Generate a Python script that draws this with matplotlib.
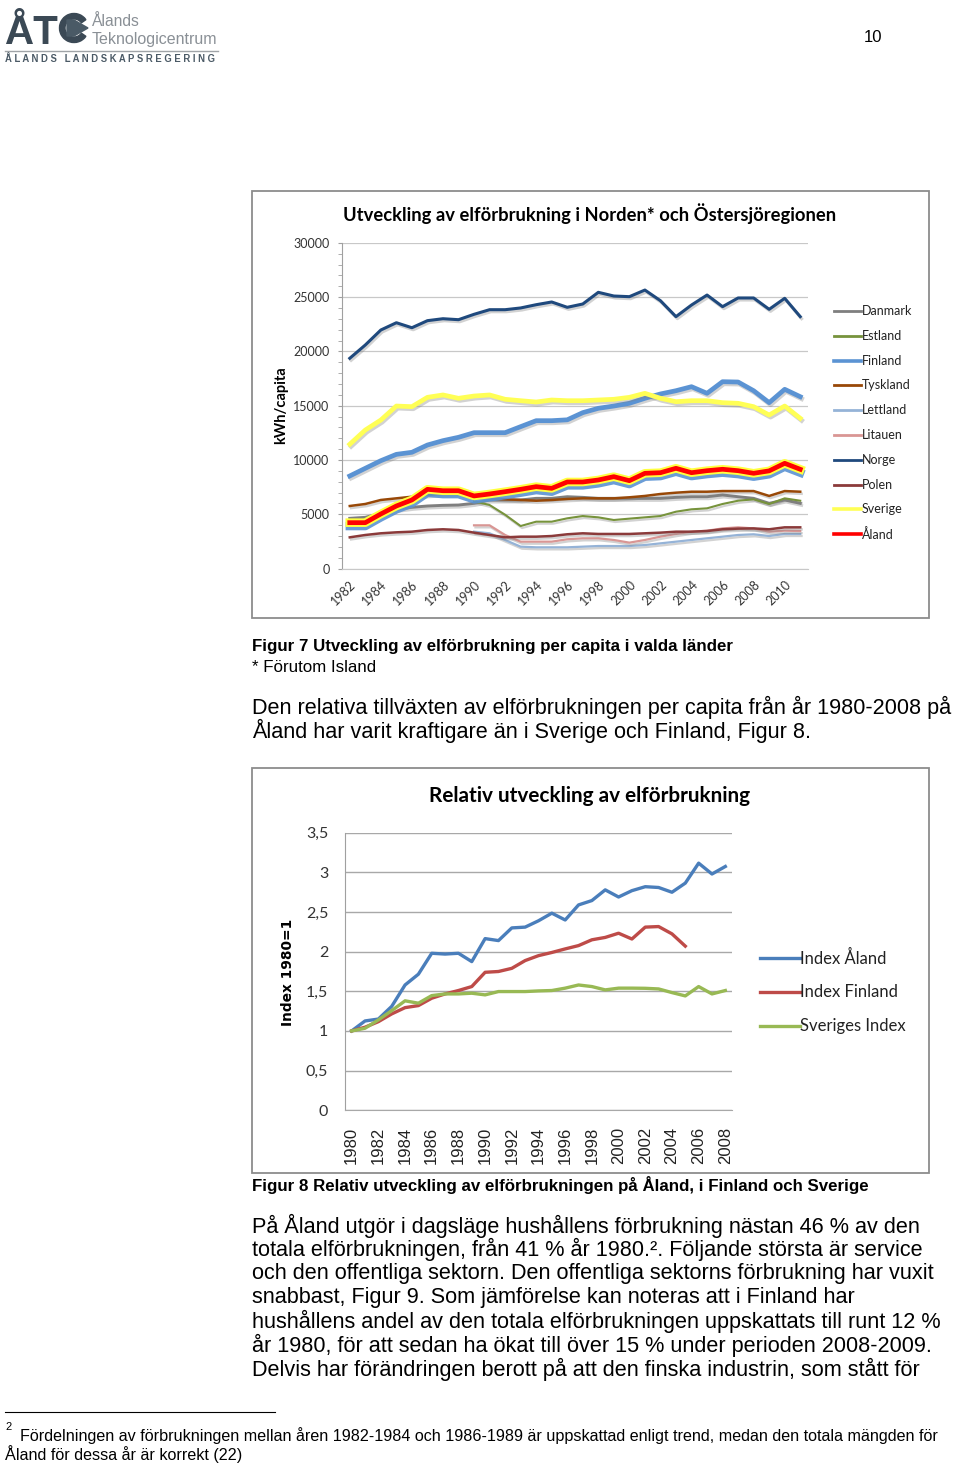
import numpy as np
import matplotlib
matplotlib.use("Agg")
import matplotlib.pyplot as plt
import matplotlib.patheffects as pe
from matplotlib.patches import Rectangle, Polygon, Wedge

nan = np.nan

# Figur 7: kWh/capita, 1982-2011
years1 = list(range(1982, 2012))
danmark = [4630, 4720, 5090, 5460, 5645, 5765, 5825, 5855, 6010, 6320, 6320, 6320, 6470, 6470, 6620,
           6560, 6470, 6470, 6470, 6470, 6470, 6560, 6620, 6620, 6780, 6620, 6470, 6010, 6320, 6010]
estland = [nan] * 8 + [6200, 5855, 4960, 3920, 4320, 4320, 4630, 4840, 4720, 4475, 4600, 4720, 4840,
                       5240, 5460, 5550, 5950, 6250, 6380, 5950, 6470, 6250]
finland = [8530, 9235, 9935, 10520, 10710, 11380, 11780, 12090, 12515, 12515, 12515, 13070, 13620, 13620,
           13700, 14360, 14760, 14970, 15220, 15680, 16080, 16380, 16750, 16140, 17210, 17180, 16380,
           15280, 16510, 15830]
tyskland = [5765, 5950, 6320, 6470, 6620, 6780, 6870, 6870, 6690, 6470, 6380, 6320, 6250, 6320, 6410,
            6470, 6470, 6470, 6565, 6690, 6870, 6990, 7080, 7080, 7140, 7140, 7140, 6690, 7140, 7080]
lettland = [nan] * 8 + [3400, 3250, 2635, 2020, 1960, 1960, 1960, 2020, 2080, 2080, 2080, 2170, 2325,
                        2480, 2635, 2790, 2940, 3095, 3160, 3000, 3190, 3190]
litauen = [nan] * 8 + [3985, 3985, 3095, 2480, 2480, 2480, 2700, 2790, 2790, 2635, 2390, 2635, 2940,
                       3190, 3400, 3490, 3700, 3800, 3700, 3400, 3490, 3460]
norge = [19365, 20590, 21970, 22640, 22180, 22830, 23010, 22920, 23415, 23840, 23840, 24000, 24300,
         24550, 24060, 24365, 25440, 25100, 25040, 25650, 24670, 23200, 24270, 25190, 24120, 24920,
         24920, 23875, 24890, 23200]
polen = [2880, 3095, 3250, 3340, 3400, 3555, 3620, 3555, 3310, 3095, 2880, 2940, 2940, 3000, 3160,
         3250, 3190, 3190, 3190, 3250, 3310, 3400, 3400, 3460, 3620, 3680, 3700, 3620, 3800, 3800]
sverige = [11450, 12760, 13680, 14970, 14910, 15770, 15990, 15680, 15890, 15990, 15590, 15460, 15340,
           15525, 15460, 15460, 15525, 15590, 15770, 16140, 15680, 15370, 15460, 15460, 15280, 15220,
           14910, 14140, 14970, 13840]
aland = [4230, 4230, 5030, 5765, 6320, 7300, 7170, 7170, 6690, 6870, 7080, 7300, 7545, 7390, 7975,
         7975, 8160, 8465, 8095, 8775, 8830, 9235, 8830, 9015, 9145, 9015, 8775, 9000, 9695, 9145]

countries = ["Danmark", "Estland", "Finland", "Tyskland", "Lettland", "Litauen", "Norge", "Polen",
             "Sverige", "Åland"]
series1 = [danmark, estland, finland, tyskland, lettland, litauen, norge, polen, sverige, aland]
colors1 = ["#7f7f7f", "#77933c", "#5b93d3", "#984807", "#95b3d7", "#d99694", "#1f497d", "#8b3a3a",
           "#ffff55", "#ff0000"]
widths1 = [2.1, 1.5, 3.4, 1.8, 1.6, 1.6, 2.2, 1.8, 3.4, 3.4]

# Figur 8: index 1980=1
years2 = list(range(1980, 2009))
index_aland = [1.0, 1.126, 1.15, 1.31, 1.58, 1.716, 1.98, 1.97, 1.98, 1.875, 2.165, 2.14, 2.30, 2.31,
               2.39, 2.486, 2.40, 2.59, 2.645, 2.78, 2.69, 2.77, 2.82, 2.81, 2.75, 2.865, 3.117, 2.98,
               3.075]
index_finland = [1.0, 1.047, 1.117, 1.215, 1.294, 1.32, 1.413, 1.467, 1.51, 1.56, 1.74, 1.75, 1.79,
                 1.888, 1.95, 1.99, 2.035, 2.077, 2.15, 2.18, 2.233, 2.16, 2.31, 2.317, 2.225, 2.07,
                 nan, nan, nan]
sveriges_index = [1.0, 1.034, 1.139, 1.256, 1.38, 1.35, 1.446, 1.467, 1.467, 1.476, 1.455, 1.497,
                  1.497, 1.497, 1.505, 1.51, 1.54, 1.58, 1.56, 1.518, 1.54, 1.54, 1.538, 1.53, 1.484,
                  1.442, 1.56, 1.467, 1.51]
names2 = ["Index Åland", "Index Finland", "Sveriges Index"]
series2 = [index_aland, index_finland, sveriges_index]
colors2 = ["#4a7ebb", "#be4b48", "#98b954"]

body = [
    "På Åland utgör i dagsläge hushållens förbrukning nästan 46 % av den",
    "totala elförbrukningen, från 41 % år 1980.². Följande största är service",
    "och den offentliga sektorn. Den offentliga sektorns förbrukning har vuxit",
    "snabbast, Figur 9. Som jämförelse kan noteras att i Finland har",
    "hushållens andel av den totala elförbrukningen uppskattats till runt 12 %",
    "år 1980, för att sedan ha ökat till över 15 % under perioden 2008-2009.",
    "Delvis har förändringen berott på att den finska industrin, som stått för",
]

W, H = 960, 1465
fig = plt.figure(figsize=(W / 100, H / 100), dpi=100)
page = fig.add_axes([0, 0, 1, 1])
page.set_xlim(0, W)
page.set_ylim(H, 0)
page.axis("off")
renderer = fig.canvas.get_renderer()

ARIAL = "Liberation Sans"
CHART = "Lato"


def px_axes(l, t, r, b):
    return fig.add_axes([l / W, 1 - b / H, (r - l) / W, (b - t) / H])


def fit(t, size, vertical=False):
    bb = t.get_window_extent(renderer)
    cur = bb.height if vertical else bb.width
    t.set_fontsize(t.get_fontsize() * size / cur)
    return t.get_fontsize()


# logo
logo_c = "#3b4955"
t = page.text(4, 44, "ÅT", fontsize=30, color=logo_c, family=ARIAL, weight="bold", va="baseline")
fit(t, 54)
page.add_patch(Wedge((74, 28), 14.5, 35, 325, width=5.5, color=logo_c))
page.add_patch(Polygon([(67, 20), (67, 36), (74, 36), (88, 28), (74, 20)], closed=True, color="#4a5a66"))
t = page.text(92, 26, "Ålands", fontsize=12, color="#8a9096", family=ARIAL, va="baseline")
fit(t, 48)
t = page.text(92, 44, "Teknologicentrum", fontsize=12, color="#8a9096", family=ARIAL, va="baseline")
fit(t, 126)
page.plot([5, 218], [51, 51], color="#a0a4a8", lw=1)
t = page.text(5, 62, " ".join("ÅLANDS") + "   " + " ".join("LANDSKAPSREGERING"), fontsize=6,
              color="#4b5a66", family=ARIAL, weight="bold", va="baseline")
fit(t, 213)
page.text(873, 37, "10", fontsize=12, family=ARIAL, ha="center", va="center")

# frames
page.add_patch(Rectangle((252, 191), 677, 427, fill=False, ec="#8c8c8c", lw=1.3))
page.add_patch(Rectangle((252, 768), 677, 405, fill=False, ec="#8c8c8c", lw=1.3))

# chart 1
t = page.text(590, 214, "Utveckling av elförbrukning i Norden* och Östersjöregionen", family=CHART,
              weight="bold", fontsize=12, ha="center", va="center")
fit(t, 487)
t = page.text(281, 405, "kWh/capita", family=CHART, weight="bold", fontsize=10, rotation=90,
              ha="center", va="center")
fit(t, 78, vertical=True)

ax1 = px_axes(342, 242.8, 808, 568.6)
ax1.set_facecolor("none")
x1 = np.arange(len(years1))
shadow = pe.SimpleLineShadow(offset=(1, -1.5), shadow_color="gray", alpha=0.35)
for name, vals, c, lw in zip(countries, series1, colors1, widths1):
    if name == "Åland":
        effects = [pe.SimpleLineShadow(offset=(0, -2.5), shadow_color="#5b93d3", alpha=0.9, linewidth=6),
                   pe.Stroke(linewidth=6.2, foreground="#ffff40"), pe.Normal()]
    else:
        effects = [shadow, pe.Normal()]
    ax1.plot(x1, vals, color=c, lw=lw, solid_joinstyle="round", path_effects=effects)
ax1.set_xlim(-0.5, len(years1) - 0.5)
ax1.set_ylim(0, 30000)
ax1.set_yticks(np.arange(0, 30001, 5000))
ax1.set_yticks(np.arange(0, 30001, 1000), minor=True)
ax1.set_yticklabels([str(v) for v in range(0, 30001, 5000)], family=CHART, fontsize=9, color="#333333")
ax1.set_xticks(x1[::2])
ax1.set_xticklabels([str(y) for y in years1[::2]], rotation=45, ha="right", rotation_mode="anchor",
                    family=CHART, fontsize=9, color="#333333")
ax1.tick_params(axis="x", length=0, pad=7)
ax1.tick_params(axis="y", which="both", length=3, color="#a0a0a0", pad=6)
ax1.grid(axis="y", color="#c8c8c8", lw=0.9)
ax1.set_axisbelow(True)
for s in ["top", "right"]:
    ax1.spines[s].set_visible(False)
ax1.spines["left"].set_color("#a0a0a0")
ax1.spines["bottom"].set_color("#c8c8c8")

for i, (name, c) in enumerate(zip(countries, colors1)):
    y = 311 + i * 24.8
    page.plot([834, 861], [y, y], color=c, lw=2.6 if name in ("Finland", "Sverige", "Åland") else 2.0)
    page.text(862, y, name, family=CHART, fontsize=9, va="center", color="#222222")

cap = page.text(252, 647, "Figur 7 Utveckling av elförbrukning per capita i valda länder", family=ARIAL,
                weight="bold", fontsize=11, va="center")
cap_size = fit(cap, 480)
page.text(252, 667, "* Förutom Island", family=ARIAL, fontsize=cap_size, va="center")

t = page.text(252, 707, "Den relativa tillväxten av elförbrukningen per capita från år 1980-2008 på",
              family=ARIAL, fontsize=14, va="center")
body_size = fit(t, 706)
page.text(252, 731, "Åland har varit kraftigare än i Sverige och Finland, Figur 8.", family=ARIAL,
          fontsize=body_size, va="center")

# chart 2
t = page.text(589.5, 796, "Relativ utveckling av elförbrukning", family=CHART, weight="bold",
              fontsize=15, ha="center", va="center")
fit(t, 323)
t = page.text(288, 972, "Index 1980=1", family="DejaVu Sans", weight="bold", fontsize=10, rotation=90,
              ha="center", va="center")
fit(t, 107, vertical=True)

ax2 = px_axes(345, 832.8, 732, 1110.2)
ax2.set_facecolor("none")
x2 = np.arange(len(years2))
for name, vals, c in zip(names2, series2, colors2):
    ax2.plot(x2, vals, color=c, lw=2.4, solid_joinstyle="round")
ax2.set_xlim(-0.5, len(years2) - 0.5)
ax2.set_ylim(0, 3.5)
yt = np.arange(0, 3.51, 0.5)
ax2.set_yticks(yt)
ax2.set_yticklabels([("%g" % v).replace(".", ",") for v in yt], family=CHART, fontsize=11.5,
                    color="#333333")
ax2.set_xticks(x2[::2])
ax2.set_xticklabels([str(y) for y in years2[::2]], rotation=90, family=ARIAL, fontsize=12,
                    color="#222222")
ax2.tick_params(axis="x", length=0, pad=12)
ax2.tick_params(axis="y", length=0, pad=12)
ax2.grid(axis="y", color="#a8a8a8", lw=1)
ax2.set_axisbelow(True)
for s in ["top", "right"]:
    ax2.spines[s].set_visible(False)
ax2.spines["left"].set_color("#a0a0a0")
ax2.spines["bottom"].set_color("#a8a8a8")

for i, (name, c) in enumerate(zip(names2, colors2)):
    y = 958 + i * 34
    page.plot([760, 800], [y, y], color=c, lw=2.4)
    page.text(800, y, name, family=CHART, fontsize=12, va="center", color="#222222")

page.text(252, 1185, "Figur 8 Relativ utveckling av elförbrukningen på Åland, i Finland och Sverige",
          family=ARIAL, weight="bold", fontsize=cap_size, va="center")

for i, line in enumerate(body):
    page.text(252, 1226 + i * 23.9, line, family=ARIAL, fontsize=body_size, va="center")

# footnote
page.plot([5, 275], [1412, 1412], color="black", lw=0.8)
page.text(5, 1427, "2", family=ARIAL, fontsize=8, va="center")
t = page.text(20, 1436, "Fördelningen av förbrukningen mellan åren 1982-1984 och 1986-1989 är uppskattad "
              "enligt trend, medan den totala mängden för", family=ARIAL, fontsize=10.5, va="center")
foot_size = fit(t, 921)
page.text(5, 1454, "Åland för dessa år är korrekt (22)", family=ARIAL, fontsize=foot_size, va="center")

fig.savefig("out.png", dpi=100)
